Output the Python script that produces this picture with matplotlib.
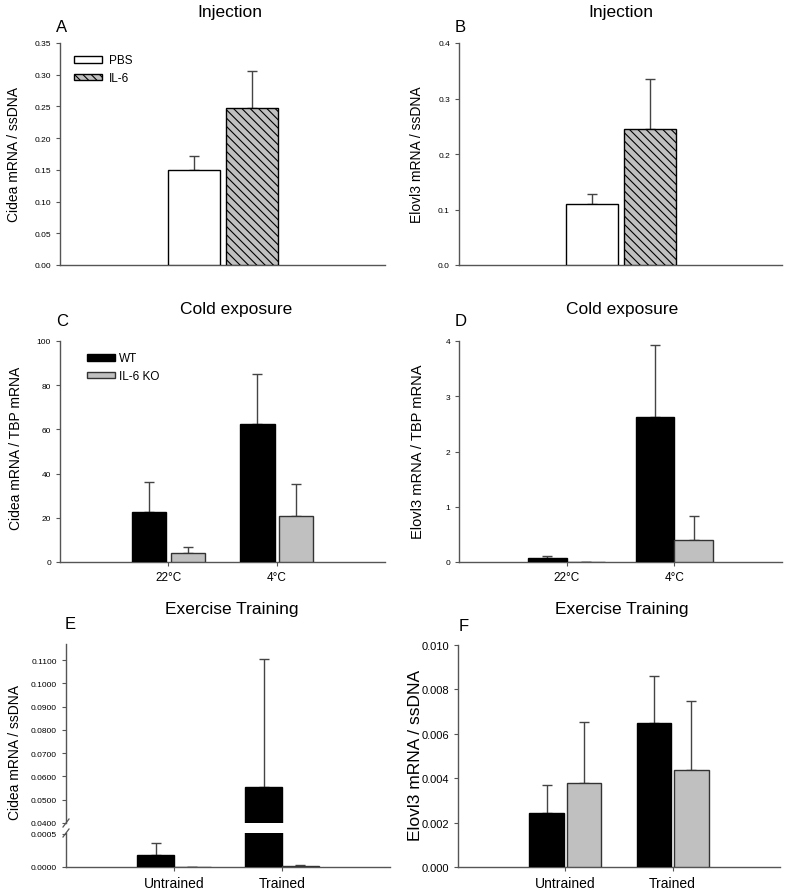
import matplotlib
matplotlib.use("Agg")
import matplotlib.pyplot as plt
from matplotlib.patches import Patch
from matplotlib.lines import Line2D
import numpy as np

plt.rcParams['font.family'] = ['Liberation Sans', 'DejaVu Sans']
plt.rcParams['hatch.linewidth'] = 0.8

# --- data ---
inj_groups = ['PBS', 'IL-6']
cidea_inj = [0.150, 0.247]
cidea_inj_err = [0.022, 0.059]
elovl_inj = [0.110, 0.245]
elovl_inj_err = [0.018, 0.091]

cold_cats = ['22°C', '4°C']
cidea_cold_wt = [22.5, 62.5]
cidea_cold_wt_err = [13.5, 22.5]
cidea_cold_ko = [4.0, 21.0]
cidea_cold_ko_err = [2.8, 14.5]
elovl_cold_wt = [0.07, 2.62]
elovl_cold_wt_err = [0.03, 1.31]
elovl_cold_ko = [0.005, 0.40]
elovl_cold_ko_err = [0.0, 0.43]

ex_cats = ['Untrained', 'Trained']
cidea_ex_wt = [0.00018, 0.0555]
cidea_ex_wt_err = [0.00018, 0.0549]
cidea_ex_ko = [0.000002, 0.00002]
cidea_ex_ko_err = [0.0, 0.00001]
elovl_ex_wt = [0.00245, 0.0065]
elovl_ex_wt_err = [0.00125, 0.0021]
elovl_ex_ko = [0.00377, 0.00437]
elovl_ex_ko_err = [0.00275, 0.0031]

W, H = 787, 895
fig = plt.figure(figsize=(W / 100, H / 100), dpi=100)

AXC = '#555555'   # axis colour
ERRC = '#444444'  # error bar colour
GRAY = '#c0c0c0'


def box(l, t, r, b):
    return [l / W, 1 - b / H, (r - l) / W, (b - t) / H]


def style(ax, tick_fs=6, bottom=True):
    for s in ['top', 'right']:
        ax.spines[s].set_visible(False)
    for s in ['left', 'bottom']:
        ax.spines[s].set_color(AXC)
        ax.spines[s].set_linewidth(1.0)
    if not bottom:
        ax.spines['bottom'].set_visible(False)
    ax.tick_params(axis='y', colors=AXC, labelcolor='black', labelsize=tick_fs,
                   length=3, width=0.8, direction='out')
    ax.tick_params(axis='x', colors=AXC, labelcolor='black', length=3, width=0.8)


def bars(ax, x, vals, errs, width, **kw):
    ax.bar(x, vals, width, linewidth=1.0, zorder=3, **kw)
    ax.errorbar(x, vals, yerr=[np.zeros(len(errs)), errs], fmt='none',
                ecolor=ERRC, elinewidth=1.0, capsize=3.5, capthick=1.0, zorder=2)


def ftext(x, y, s, **kw):
    fig.text(x / W, 1 - y / H, s, **kw)


# --- A & B : injection ---
for (l, r), vals, errs, ylab, ymax, ticks, fmt, lx in [
        ((60, 385), cidea_inj, cidea_inj_err, 'Cidea mRNA / ssDNA', 0.35,
         np.arange(0, 0.351, 0.05), '%.2f', 14),
        ((459, 782), elovl_inj, elovl_inj_err, 'Elovl3 mRNA / ssDNA', 0.4,
         np.arange(0, 0.41, 0.1), '%.1f', 417)]:
    ax = fig.add_axes(box(l, 44, r, 266))
    style(ax)
    pos = np.array([0.412, 0.591])
    bars(ax, pos[:1], vals[:1], errs[:1], 0.16, color='white', edgecolor='black')
    bars(ax, pos[1:], vals[1:], errs[1:], 0.16, color=GRAY, edgecolor='black', hatch='\\\\\\\\')
    ax.set_xlim(0, 1)
    ax.set_ylim(0, ymax)
    ax.set_yticks(ticks)
    ax.yaxis.set_major_formatter(plt.FormatStrFormatter(fmt))
    ax.set_xticks([])
    ftext(lx, 155, ylab, rotation=90, ha='center', va='center', fontsize=10)
    if l == 60:
        handles = [Patch(facecolor='white', edgecolor='black', label=inj_groups[0]),
                   Patch(facecolor=GRAY, edgecolor='black', hatch='\\\\\\\\', label=inj_groups[1])]
        ax.legend(handles=handles, loc='upper left', bbox_to_anchor=(0.03, 0.97),
                  frameon=False, fontsize=8.5, handlelength=2.3, handleheight=0.5,
                  handletextpad=0.6, labelspacing=0.5, borderaxespad=0)

ftext(230, 12, 'Injection', ha='center', va='center', fontsize=12.5)
ftext(621, 12, 'Injection', ha='center', va='center', fontsize=12.5)
ftext(62, 28, 'A', ha='center', va='center', fontsize=12)
ftext(460, 28, 'B', ha='center', va='center', fontsize=12)

# --- C : Cidea cold ---
ax = fig.add_axes(box(60, 342, 385, 563))
style(ax)
x = np.arange(1, len(cold_cats) + 1)
bars(ax, x - 0.18, cidea_cold_wt, cidea_cold_wt_err, 0.32, color='black', edgecolor='black')
bars(ax, x + 0.18, cidea_cold_ko, cidea_cold_ko_err, 0.32, color=GRAY, edgecolor='#333333')
ax.set_xlim(0, 3)
ax.set_ylim(0, 100)
ax.set_yticks(np.arange(0, 101, 20))
ax.set_xticks(x)
ax.set_xticklabels(cold_cats, fontsize=8.5)
handles = [Patch(facecolor='black', edgecolor='black', label='WT'),
           Patch(facecolor=GRAY, edgecolor='#333333', label='IL-6 KO')]
ax.legend(handles=handles, loc='upper left', bbox_to_anchor=(0.07, 0.97),
          frameon=False, fontsize=8.5, handlelength=2.3, handleheight=0.5,
          handletextpad=0.4, labelspacing=0.5, borderaxespad=0)
ftext(16, 448, 'Cidea mRNA / TBP mRNA', rotation=90, ha='center', va='center', fontsize=10)

# --- D : Elovl3 cold ---
ax = fig.add_axes(box(459, 342, 782, 563))
style(ax)
bars(ax, x - 0.18, elovl_cold_wt, elovl_cold_wt_err, 0.36, color='black', edgecolor='black')
bars(ax, x + 0.18, elovl_cold_ko, elovl_cold_ko_err, 0.36, color=GRAY, edgecolor='#333333')
ax.set_xlim(0, 3)
ax.set_ylim(0, 4)
ax.set_yticks(np.arange(0, 5, 1))
ax.set_xticks(x)
ax.set_xticklabels(cold_cats, fontsize=8.5)
ftext(418, 452, 'Elovl3 mRNA / TBP mRNA', rotation=90, ha='center', va='center', fontsize=10.5)

ftext(236, 310, 'Cold exposure', ha='center', va='center', fontsize=12.5)
ftext(622, 310, 'Cold exposure', ha='center', va='center', fontsize=12.5)
ftext(62, 322, 'C', ha='center', va='center', fontsize=12)
ftext(461, 322, 'D', ha='center', va='center', fontsize=12)

# --- E : Cidea exercise (broken axis) ---
ax_lo = fig.add_axes(box(66, 834, 390, 868))
ax_hi = fig.add_axes(box(66, 645, 390, 824))
style(ax_lo)
style(ax_hi, bottom=False)
for a in (ax_lo, ax_hi):
    bars(a, x - 0.17, cidea_ex_wt, cidea_ex_wt_err, 0.34, color='black', edgecolor='black')
    bars(a, x + 0.17, cidea_ex_ko, cidea_ex_ko_err, 0.34, color=GRAY, edgecolor='#333333')
    a.set_xlim(0, 3)
    a.yaxis.set_major_formatter(plt.FormatStrFormatter('%.4f'))
ax_lo.set_ylim(0, 0.000515)
ax_lo.set_yticks([0, 0.0005])
ax_hi.set_ylim(0.04, 0.1169)
ax_hi.set_yticks(np.arange(0.04, 0.1101, 0.01))
ax_hi.set_xticks([])
ax_lo.set_xticks(x)
ax_lo.set_xticklabels(ex_cats, fontsize=10)
for yb in (824, 834):
    fig.add_artist(Line2D([(66 - 3) / W, (66 + 3) / W],
                          [1 - (yb + 4) / H, 1 - (yb - 4) / H], color=AXC, lw=0.9))
ftext(15, 753, 'Cidea mRNA / ssDNA', rotation=90, ha='center', va='center', fontsize=10)

# --- F : Elovl3 exercise ---
ax = fig.add_axes(box(458, 646, 780, 868))
style(ax, tick_fs=8)
bars(ax, x - 0.175, elovl_ex_wt, elovl_ex_wt_err, 0.32, color='black', edgecolor='black')
bars(ax, x + 0.175, elovl_ex_ko, elovl_ex_ko_err, 0.32, color=GRAY, edgecolor='#333333')
ax.set_xlim(0, 3)
ax.set_ylim(0, 0.010)
ax.set_yticks(np.arange(0, 0.0101, 0.002))
ax.yaxis.set_major_formatter(plt.FormatStrFormatter('%.3f'))
ax.set_xticks(x)
ax.set_xticklabels(ex_cats, fontsize=10)
ftext(415, 755, 'Elovl3 mRNA / ssDNA', rotation=90, ha='center', va='center', fontsize=12.5)

ftext(232, 610, 'Exercise Training', ha='center', va='center', fontsize=12.5)
ftext(622, 610, 'Exercise Training', ha='center', va='center', fontsize=12.5)
ftext(70, 625, 'E', ha='center', va='center', fontsize=12)
ftext(464, 627, 'F', ha='center', va='center', fontsize=12)

fig.savefig('out.png', dpi=100)
